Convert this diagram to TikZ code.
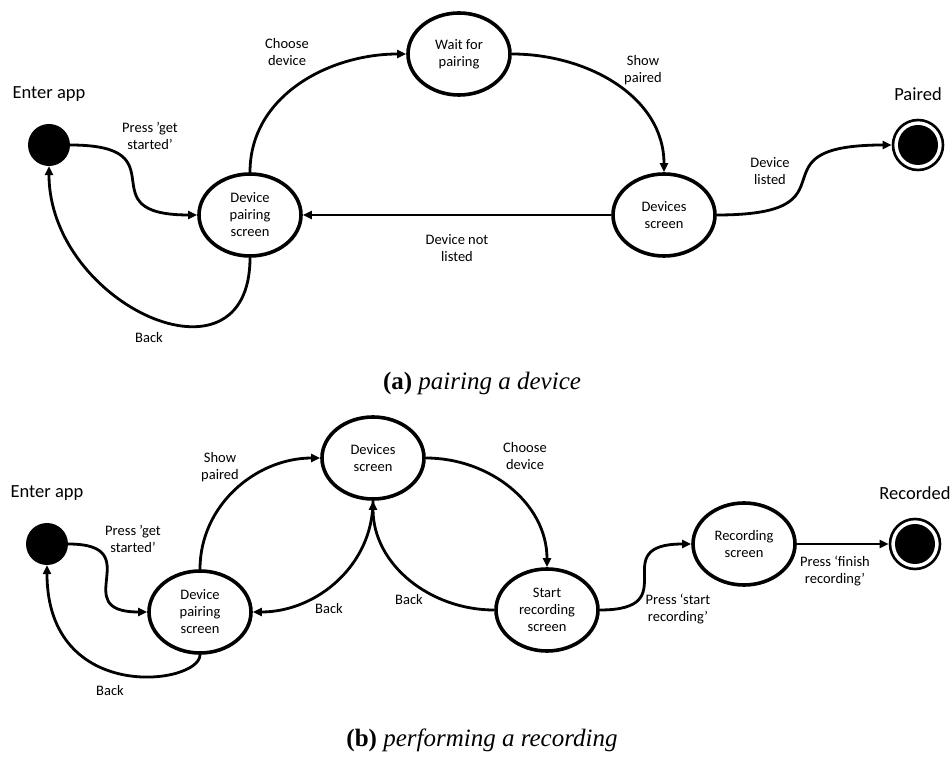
\documentclass[tikz,border=0pt]{standalone}
\usepackage{fontspec}
\setmainfont{Carlito}
\newfontfamily\capfont{Liberation Serif}
\usetikzlibrary{arrows.meta,shapes.geometric}

\begin{document}
\begin{tikzpicture}[x=1pt,y=1pt,
                state/.style={draw,ellipse,line width=3.6pt,minimum width=102pt,minimum height=82pt,inner sep=0pt,align=center,font=\fontsize{14.5}{17}\selectfont},
                init/.style={circle,fill=black,minimum size=42pt,inner sep=0pt},
                final/.style={circle,draw,line width=2.6pt,minimum size=50pt,inner sep=0pt},
                title/.style={font=\fontsize{18.5}{22}\selectfont},
                lbl/.style={align=center,font=\fontsize{14.5}{17}\selectfont},
                trans/.style={line width=2.8pt,-{Triangle[length=9pt,width=8pt]}},
                caption/.style={font=\capfont\fontsize{25}{29}\selectfont}]
                \def\ri{20};
                \useasboundingbox (0,0) rectangle (952,760);
                % (a) pairing a device
                \node[init] (initA) at (49,615) {};
                \node[title] (enterA) at (49,666) {Enter app};
                \node[state] (pairingA) at (250,545) {Device\\pairing\\screen};
                \node[state] (waitA) at (459,706) {Wait for\\pairing};
                \node[state] (devicesA) at (664,545) {Devices\\screen};
                \node[final] (pairedA) at (918,615) {};
                \fill (pairedA) circle (\ri);
                \node[title] (pairedtitleA) at (918,666) {Paired};
                \draw[trans] (initA.east) to[out=0,in=180,looseness=2] (pairingA.west);
                \draw[trans] (pairingA.south) to[out=-90,in=-90,looseness=1.6] (initA.south);
                \draw[trans] (pairingA.north) to[out=90,in=180] (waitA.west);
                \draw[trans] (waitA.east) to[out=0,in=90] (devicesA.north);
                \draw[trans] (devicesA.west) -- (pairingA.east);
                \draw[trans] (devicesA.east) to[out=0,in=180,looseness=2] (pairedA.west);
                \node[lbl] (getstartedA) at (150,624) {Press ’get\\started’};
                \node[lbl] (backA) at (149,422) {Back};
                \node[lbl] (chooseA) at (287,708) {Choose\\device};
                \node[lbl] (showA) at (643,690) {Show\\paired};
                \node[lbl] (notlistedA) at (457,512) {Device not\\listed};
                \node[lbl] (listedA) at (770,589) {Device\\listed};
                \node[caption] (captionA) at (482,377) {\textbf{(a)} \textit{pairing a device}};
                % (b) performing a recording
                \node[init] (initB) at (47,216) {};
                \node[title] (enterB) at (47,267) {Enter app};
                \node[state] (pairingB) at (200,148) {Device\\pairing\\screen};
                \node[state] (devicesB) at (373,302) {Devices\\screen};
                \node[state] (startrecB) at (547,150) {Start\\recording\\screen};
                \node[state] (recordingB) at (744,216) {Recording\\screen};
                \node[final] (recordedB) at (915,216) {};
                \fill (recordedB) circle (\ri);
                \node[title] (recordedtitleB) at (915,267) {Recorded};
                \draw[trans] (initB.east) to[out=0,in=180,looseness=2] (pairingB.west);
                \draw[trans] (pairingB.south) .. controls +(0,-30) and +(0,-140) .. (initB.south);
                \draw[trans] (pairingB.north) to[out=90,in=180] (devicesB.west);
                \draw[trans] (devicesB.south) to[out=-90,in=0] (pairingB.east);
                \draw[trans] (devicesB.east) to[out=0,in=90] (startrecB.north);
                \draw[trans] (startrecB.west) to[out=180,in=-90] (devicesB.south);
                \draw[trans] (startrecB.east) to[out=0,in=180,looseness=2] (recordingB.west);
                \draw[trans] (recordingB.east) -- (recordedB.west);
                \node[lbl] (getstartedB) at (133,221) {Press ’get\\started’};
                \node[lbl] (backB) at (110,69) {Back};
                \node[lbl] (showB) at (220,293) {Show\\paired};
                \node[lbl] (backpairB) at (329,151) {Back};
                \node[lbl] (backdevB) at (409,160) {Back};
                \node[lbl] (chooseB) at (525,304) {Choose\\device};
                \node[lbl] (startB) at (678,151) {Press ‘start\\recording’};
                \node[lbl] (finishB) at (835,189) {Press ‘finish\\recording’};
                \node[caption] (captionB) at (482,20) {\textbf{(b)} \textit{performing a recording}};
            \end{tikzpicture}
\end{document}
